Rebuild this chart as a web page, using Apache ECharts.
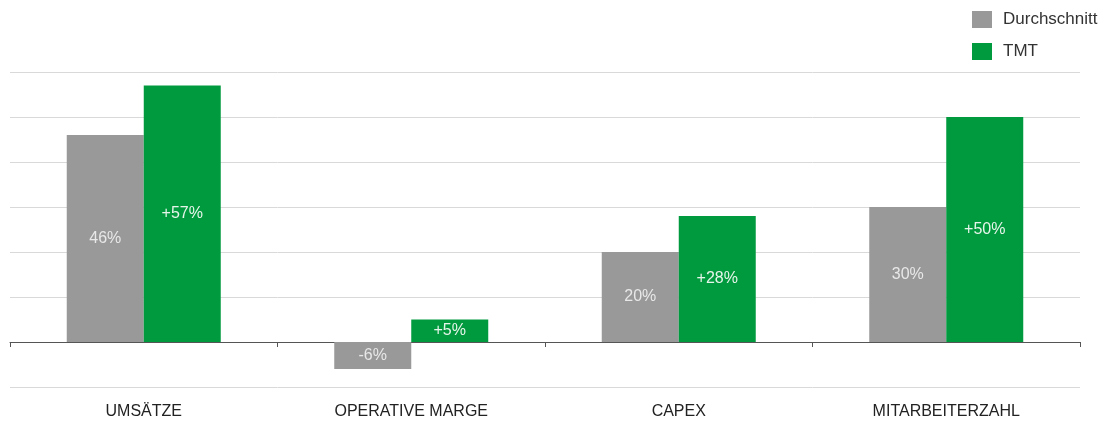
<!DOCTYPE html>
<html><head><meta charset="utf-8">
<script src="https://cdn.jsdelivr.net/npm/echarts@6/dist/echarts.min.js"></script>
<style>html,body{margin:0;padding:0;background:#fff}#c{width:1109px;height:423px}</style>
</head><body><div id="c"></div>
<script>
const categories = ['UMSÄTZE', 'OPERATIVE MARGE', 'CAPEX', 'MITARBEITERZAHL'];
const durchschnitt = [46, -6, 20, 30];
const tmt = [57, 5, 28, 50];
const durchschnittLabels = ['46%', '-6%', '20%', '30%'];
const tmtLabels = ['+57%', '+5%', '+28%', '+50%'];

const chart = echarts.init(document.getElementById('c'));
chart.setOption({
  animation: false,
  textStyle: { fontFamily: 'Liberation Sans, Arial, sans-serif' },
  legend: {
    orient: 'vertical', left: 967, top: 6, icon: 'rect',
    itemWidth: 20, itemHeight: 17, itemGap: 15,
    textStyle: { fontSize: 17, color: '#333', padding: [0, 0, 0, 6] },
    data: ['Durchschnitt', 'TMT']
  },
  grid: { left: 10, right: 29, top: 72, bottom: 36, containLabel: false, outerBoundsMode: 'none' },
  xAxis: [
    {
      type: 'category', data: categories,
      axisLine: { onZero: true, lineStyle: { color: '#555', width: 1 } },
      axisTick: { show: true, length: 5, lineStyle: { color: '#555' } },
      axisLabel: { show: false }
    },
    {
      type: 'category', data: categories, position: 'bottom',
      axisLine: { show: false, onZero: false }, axisTick: { show: false },
      axisLabel: { margin: 17, fontSize: 16, color: '#222' }
    }
  ],
  yAxis: {
    type: 'value', min: -10, max: 60, interval: 10,
    axisLabel: { show: false }, axisLine: { show: false }, axisTick: { show: false },
    splitLine: { lineStyle: { color: '#d9d9d9', width: 1 } }
  },
  series: [
    {
      name: 'Durchschnitt', type: 'bar', data: durchschnitt, barWidth: 77, barGap: '0%',
      itemStyle: { color: '#999999' },
      label: { show: true, position: 'inside', fontSize: 16, color: '#e8e8e8',
        formatter: p => durchschnittLabels[p.dataIndex] }
    },
    {
      name: 'TMT', type: 'bar', data: tmt, barWidth: 77, barGap: '0%',
      itemStyle: { color: '#009a3e' },
      label: { show: true, position: 'inside', fontSize: 16, color: '#e6f5ea',
        formatter: p => tmtLabels[p.dataIndex] }
    }
  ]
});
</script></body></html>
